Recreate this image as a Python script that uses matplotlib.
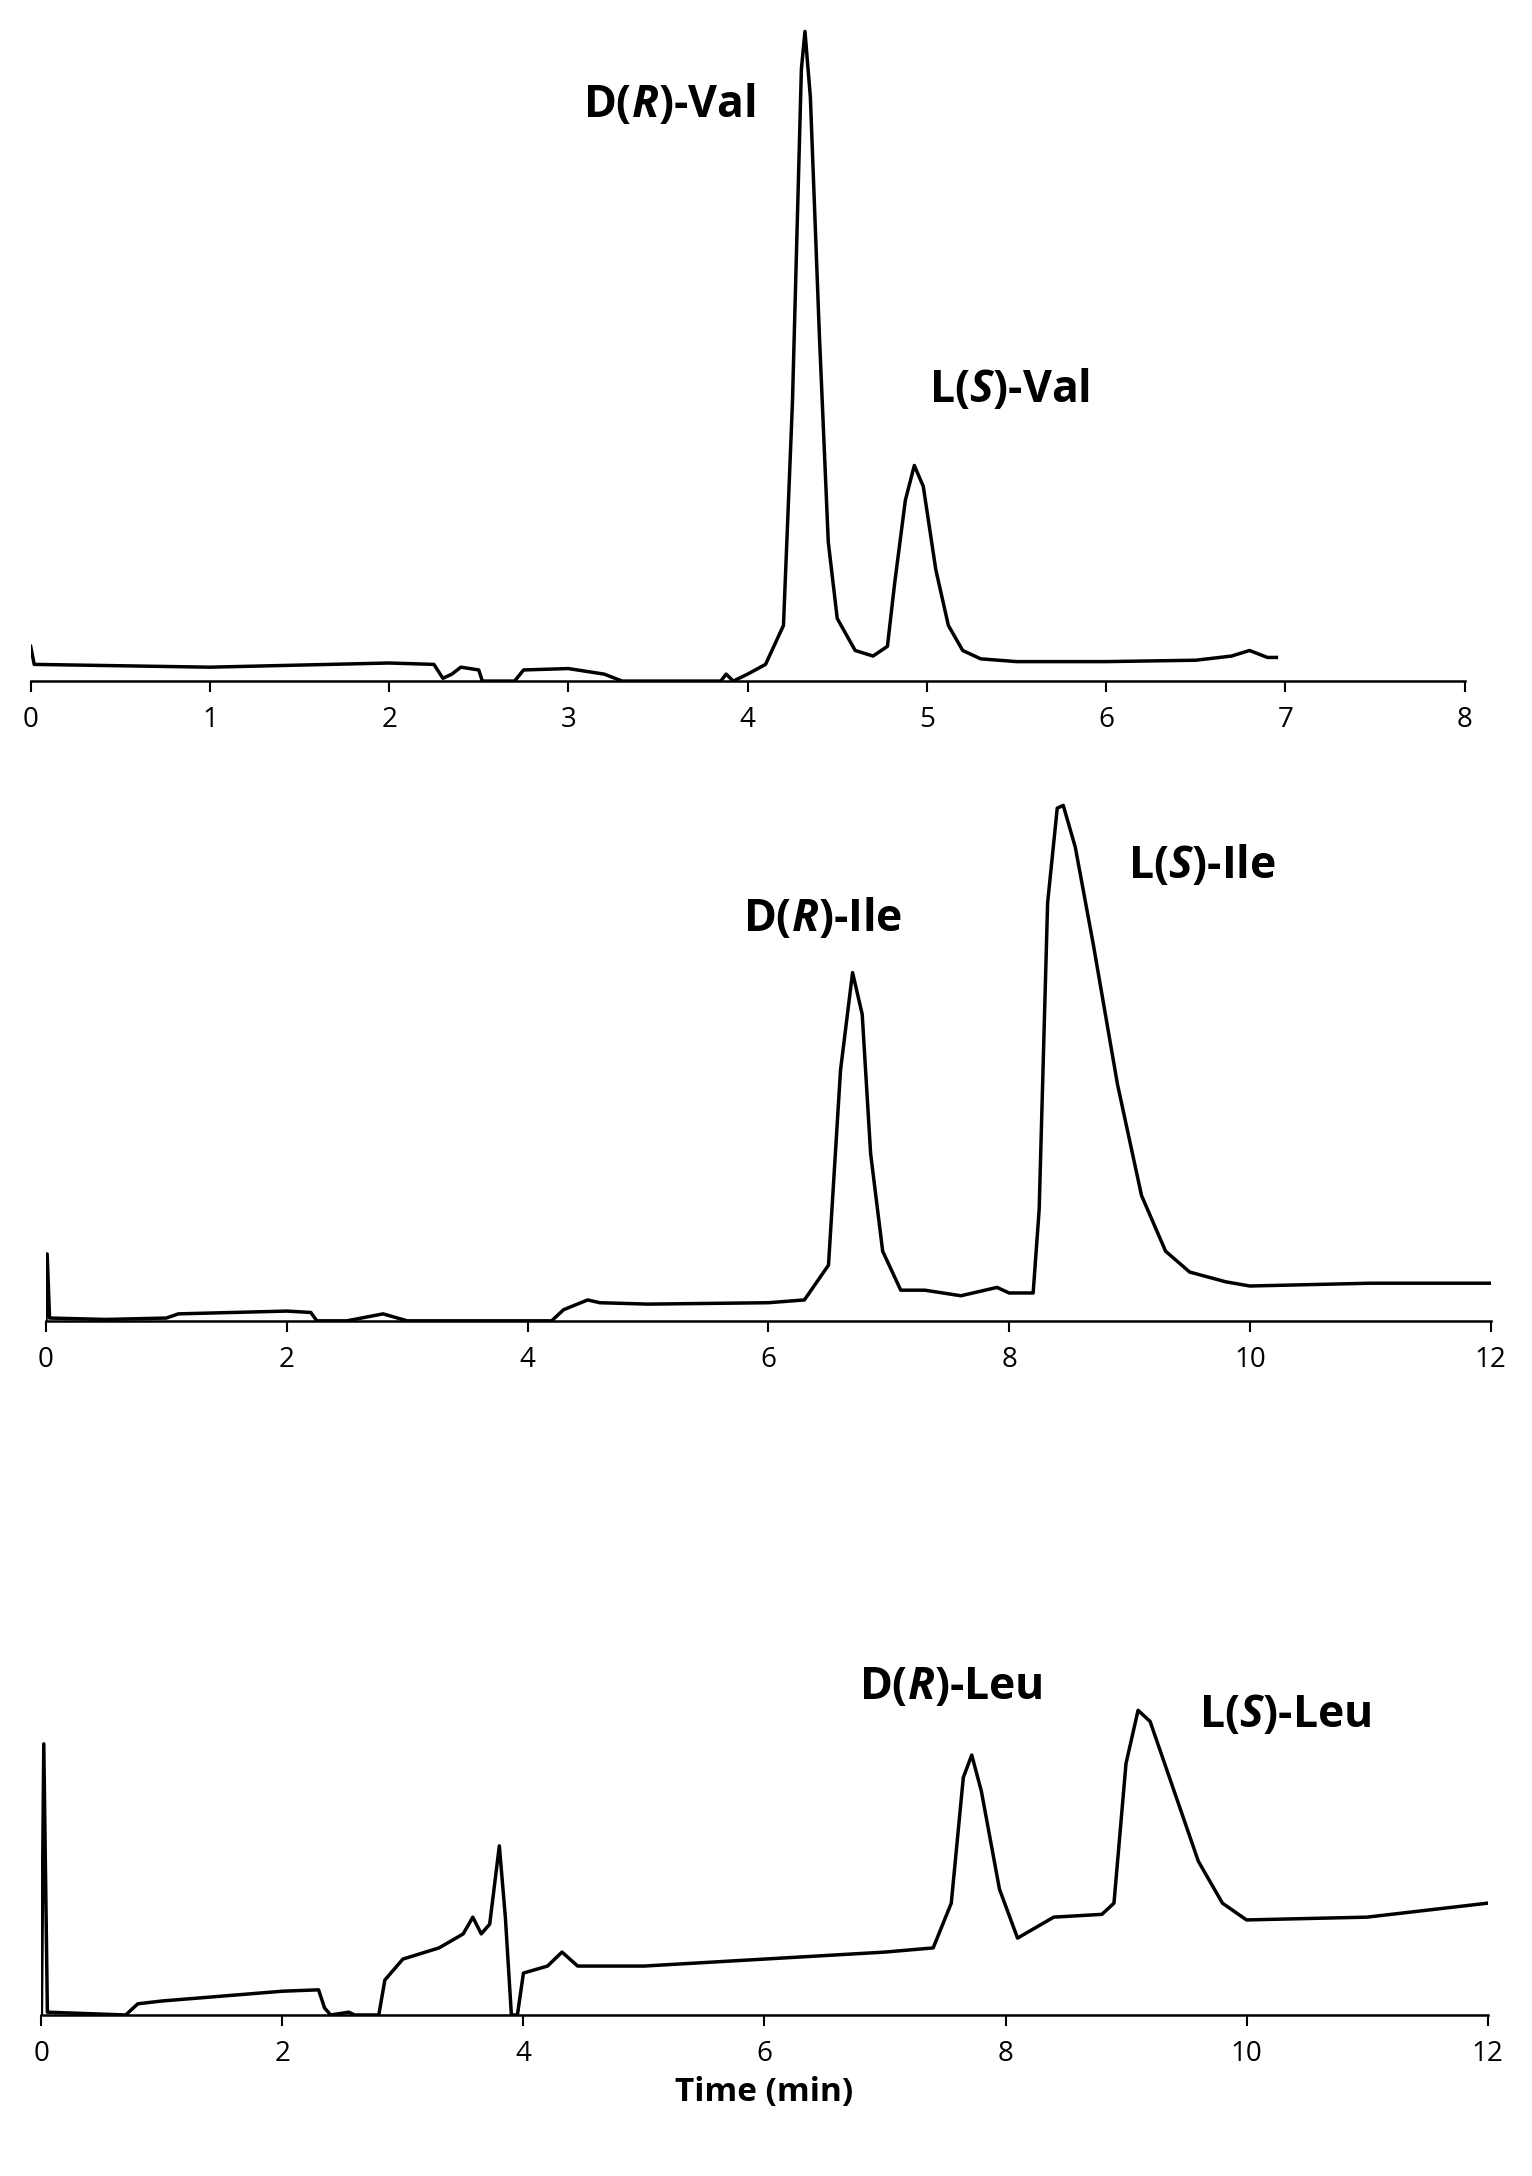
import matplotlib
matplotlib.use("Agg")
import matplotlib.pyplot as plt

plt.rcParams['font.family'] = ['Open Sans', 'DejaVu Sans']
plt.rcParams['mathtext.fontset'] = 'custom'
plt.rcParams['mathtext.bfit'] = 'Open Sans:italic:bold'
plt.rcParams['mathtext.bf'] = 'Open Sans:bold'

val_t = [0,0.02,1,2,2.25,2.3,2.35,2.4,2.5,2.52,2.7,2.75,3.0,3.2,3.3,3.85,3.88,3.92,4.0,4.1,4.2,4.25,4.3,4.32,4.35,4.4,4.45,4.5,4.6,4.7,4.78,4.82,4.88,4.93,4.98,5.05,5.12,5.2,5.3,5.5,6,6.5,6.7,6.8,6.9,6.95]
val_y = [25,12,10,13,12,2,5,10,8,0,0,8,9,5,0,0,5,0,5,12,40,200,440,467,420,250,100,45,22,18,25,70,130,155,140,80,40,22,16,14,14,15,18,22,17,17]

ile_t = [0,0.01,0.03,0.5,1,1.1,2,2.2,2.25,2.5,2.8,3.0,4.2,4.3,4.5,4.6,5,6,6.3,6.5,6.6,6.7,6.78,6.85,6.95,7.1,7.3,7.6,7.9,8.0,8.2,8.25,8.32,8.4,8.45,8.55,8.7,8.9,9.1,9.3,9.5,9.8,10,11,12]
ile_y = [0,48,2,1,2,5,7,6,0,0,5,0,0,8,15,13,12,13,15,40,180,250,220,120,50,22,22,18,24,20,20,80,300,368,370,340,270,170,90,50,35,28,25,27,27]

leu_t = [0,0.02,0.05,0.7,0.8,1,2,2.3,2.35,2.4,2.55,2.6,2.8,2.85,3,3.3,3.5,3.58,3.65,3.72,3.8,3.85,3.9,3.95,4.0,4.2,4.32,4.45,5,6,7,7.4,7.55,7.65,7.72,7.8,7.95,8.1,8.2,8.4,8.8,8.9,9.0,9.1,9.2,9.4,9.6,9.8,10,11,12]
leu_y = [0,194,2,0,8,10,17,18,5,0,2,0,0,25,40,48,58,70,58,65,121,70,0,0,30,35,45,35,35,40,45,48,80,170,186,160,90,55,60,70,72,80,180,218,210,160,110,80,68,70,80]

panels = [
    dict(t=val_t, y=val_y, xmax=8, ticks=range(0, 9, 1), pos=[0.020, 0.687, 0.936, 0.303], ylim=474,
         labels=[(3.56, 414, r'D($\mathbfit{R}$)-Val'), (5.46, 209, r'L($\mathbfit{S}$)-Val')]),
    dict(t=ile_t, y=ile_y, xmax=12, ticks=range(0, 13, 2), pos=[0.030, 0.393, 0.943, 0.242], ylim=378,
         labels=[(6.45, 288, r'D($\mathbfit{R}$)-Ile'), (9.6, 326, r'L($\mathbfit{S}$)-Ile')]),
    dict(t=leu_t, y=leu_y, xmax=12, ticks=range(0, 13, 2), pos=[0.027, 0.074, 0.944, 0.158], ylim=246,
         labels=[(7.55, 234, r'D($\mathbfit{R}$)-Leu'), (10.32, 214, r'L($\mathbfit{S}$)-Leu')]),
]

fig = plt.figure(figsize=(15.32, 21.76), dpi=100)
for i, p in enumerate(panels):
    ax = fig.add_axes(p['pos'])
    ax.plot(p['t'], p['y'], color='black', lw=2.5)
    ax.set_xlim(0, p['xmax'])
    ax.set_ylim(0, p['ylim'])
    ax.set_xticks(list(p['ticks']))
    ax.tick_params(axis='x', direction='out', length=8, width=1.5, labelsize=20, pad=10)
    ax.set_yticks([])
    for s in ['left', 'top', 'right']:
        ax.spines[s].set_visible(False)
    ax.spines['bottom'].set_linewidth(1.8)
    for x, y, s in p['labels']:
        ax.text(x, y, s, ha='center', va='center', fontsize=32, fontweight='bold', clip_on=False)
    if i == 2:
        ax.set_xlabel('Time (min)', fontsize=24, fontweight='bold', labelpad=6)

fig.savefig('out.png', dpi=100)
